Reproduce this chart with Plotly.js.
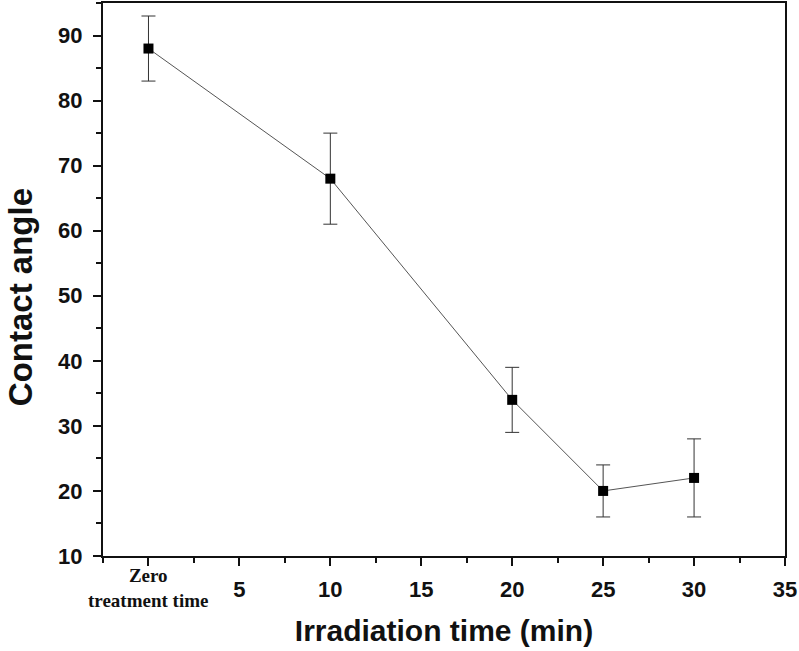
<!DOCTYPE html>
<html>
<head>
<meta charset="utf-8">
<script src="https://cdn.plot.ly/plotly-3.0.1.min.js"></script>
<style>html,body{margin:0;padding:0;background:#fff;}#chart{width:799px;height:651px;}</style>
</head>
<body>
<div id="chart"></div>
<script>
const irradiationTime = [0, 10, 20, 25, 30];
const contactAngle = [88, 68, 34, 20, 22];
const errorPlus = [5, 7, 5, 4, 6];
const errorMinus = [5, 7, 5, 4, 6];
const xTickVals = [0, 5, 10, 15, 20, 25, 30, 35];
const xTickText = ['', '5', '10', '15', '20', '25', '30', '35'];
const zeroTickLabel = 'Zero<br>treatment time';
const yTickVals = [10, 20, 30, 40, 50, 60, 70, 80, 90];
const xTitle = 'Irradiation time (min)';
const yTitle = 'Contact angle';

const trace = {
  x: irradiationTime,
  y: contactAngle,
  type: 'scatter',
  mode: 'lines+markers',
  line: {color: '#555555', width: 1},
  marker: {symbol: 'square', size: 10, color: '#000000'},
  error_y: {type: 'data', symmetric: false, array: errorPlus, arrayminus: errorMinus, color: '#333333', thickness: 1, width: 7},
  showlegend: false
};

const layout = {
  width: 799, height: 651,
  margin: {l: 103, r: 14, t: 3, b: 95},
  paper_bgcolor: '#ffffff', plot_bgcolor: '#ffffff',
  font: {family: 'Liberation Sans, Arial, sans-serif', color: '#111111'},
  xaxis: {
    range: [-2.5, 35], tickvals: xTickVals, ticktext: xTickText,
    ticks: 'outside', ticklen: 8, tickwidth: 2, tickcolor: '#111', ticklabelstandoff: 5,
    minor: {dtick: 2.5, tick0: 0, ticks: 'outside', ticklen: 5, tickwidth: 2, tickcolor: '#111'},
    showline: true, linecolor: '#111', linewidth: 2, mirror: true,
    showgrid: false, zeroline: false,
    tickfont: {size: 22, family: 'Liberation Sans, Arial, sans-serif', weight: 'bold', color: '#111'},
    title: {text: xTitle, font: {size: 30, family: 'Liberation Sans, Arial, sans-serif', weight: 'bold', color: '#111'}, standoff: 19}
  },
  yaxis: {
    range: [10, 95], tickvals: yTickVals,
    ticks: 'outside', ticklen: 8, tickwidth: 2, tickcolor: '#111', ticklabelstandoff: 6,
    minor: {dtick: 5, tick0: 0, ticks: 'outside', ticklen: 5, tickwidth: 2, tickcolor: '#111'},
    showline: true, linecolor: '#111', linewidth: 2, mirror: true,
    showgrid: false, zeroline: false,
    tickfont: {size: 22, family: 'Liberation Sans, Arial, sans-serif', weight: 'bold', color: '#111'}
  },
  annotations: [
    {x: xTickVals[0], xref: 'x', y: -0.0579, yref: 'paper', yanchor: 'middle', xanchor: 'center',
     text: zeroTickLabel, showarrow: false,
     font: {size: 19, family: 'Liberation Serif, Times New Roman, serif', weight: 'bold', color: '#111'}},
    {x: -0.1217, xref: 'paper', y: 0.468, yref: 'paper', xanchor: 'center', yanchor: 'middle',
     textangle: -90, text: yTitle, showarrow: false,
     font: {size: 33, family: 'Liberation Sans, Arial, sans-serif', weight: 'bold', color: '#111'}}
  ]
};
Plotly.newPlot('chart', [trace], layout, {displayModeBar: false, staticPlot: true});
</script>
</body>
</html>
